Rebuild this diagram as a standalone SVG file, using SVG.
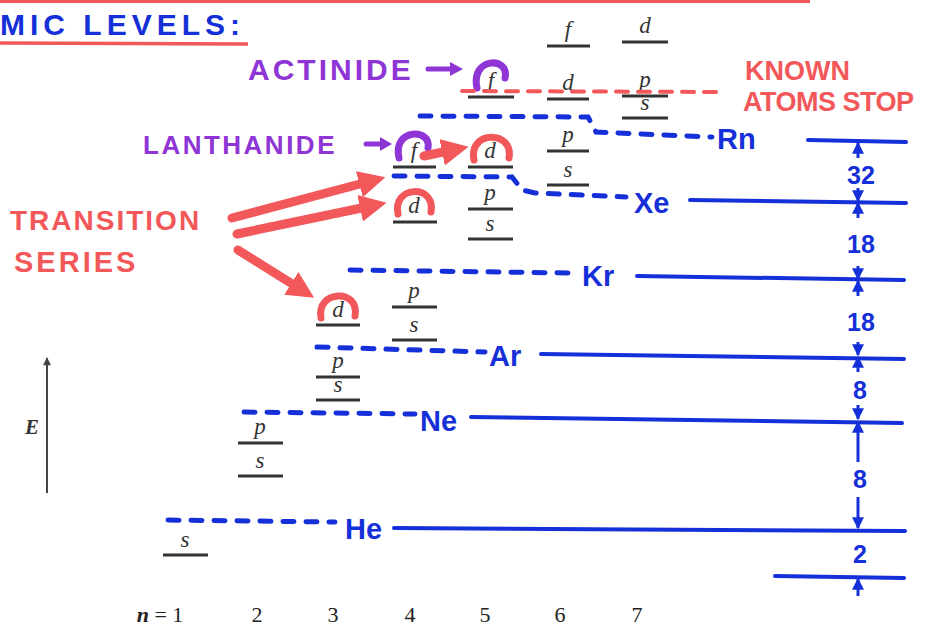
<svg xmlns="http://www.w3.org/2000/svg" width="926" height="626" viewBox="0 0 926 626">
<style>
.lvl{stroke:#333;stroke-width:3;fill:none}
.orb{font-family:"Liberation Serif",serif;font-style:italic;font-size:23px;fill:#333;text-anchor:middle}
.num{font-family:"Liberation Serif",serif;font-size:22px;fill:#222;text-anchor:middle}
.blue{fill:#1530d8;font-family:"Liberation Sans",Arial,sans-serif;font-weight:bold}
.el{font-size:29px;font-weight:900}
.red{fill:#f2585a;font-family:"Liberation Sans",Arial,sans-serif;font-weight:bold}
.pur{fill:#8f35d6;font-family:"Liberation Sans",Arial,sans-serif;font-weight:bold}
.dash{stroke:#1530d8;stroke-width:5;stroke-dasharray:11 12;stroke-linecap:round;fill:none}
.solid{stroke:#1530d8;stroke-width:4;stroke-linecap:round;fill:none}
.rarc{stroke:#f2585a;stroke-width:7;fill:none;stroke-linecap:round}
.parc{stroke:#8f35d6;stroke-width:7;fill:none;stroke-linecap:round}
.rarrow{stroke:#f2585a;stroke-width:9;fill:none;stroke-linecap:round}
.tick{stroke:#1530d8;stroke-width:3;fill:none}
</style>
<defs>
<marker id="rh" viewBox="0 0 10 10" refX="6" refY="5" markerWidth="3" markerHeight="3" orient="auto"><path d="M0,0 L10,5 L0,10 z" fill="#f2585a"/></marker>
<marker id="bh" viewBox="0 0 10 10" refX="9" refY="5" markerWidth="4" markerHeight="4" orient="auto"><path d="M0,0 L10,5 L0,10 z" fill="#1530d8"/></marker>
<marker id="kh" viewBox="0 0 10 10" refX="9" refY="5" markerWidth="6" markerHeight="4" orient="auto"><path d="M0,0 L10,5 L0,10 z" fill="#444"/></marker>
</defs>
<rect width="926" height="626" fill="#fff"/>

<g id="title">
<line x1="0" y1="1.5" x2="810" y2="1.5" stroke="#f2585a" stroke-width="3"/>
<text x="0" y="35" class="blue" font-size="30" font-weight="900" letter-spacing="5">MIC LEVELS:</text>
<line x1="0" y1="43" x2="248" y2="44" stroke="#f2585a" stroke-width="3.5"/>
</g>

<g id="axis">
<line x1="47" y1="493" x2="47" y2="358" stroke="#444" stroke-width="2" marker-end="url(#kh)"/>
<text x="32" y="434" font-family="Liberation Serif,serif" font-style="italic" font-weight="bold" font-size="21" fill="#333" text-anchor="middle">E</text>
</g>

<g id="nlabels">
<text x="160" y="622" class="num"><tspan font-style="italic" font-weight="bold">n</tspan> = 1</text>
<text x="257" y="622" class="num">2</text>
<text x="333" y="622" class="num">3</text>
<text x="410" y="622" class="num">4</text>
<text x="485" y="622" class="num">5</text>
<text x="560" y="622" class="num">6</text>
<text x="637" y="622" class="num">7</text>
</g>

<g id="n1"><line class="lvl" x1="163" y1="555" x2="208" y2="555"/><text class="orb" x="185" y="547">s</text></g>
<g id="n2">
<line class="lvl" x1="238" y1="476" x2="283" y2="476"/><text class="orb" x="260" y="468">s</text>
<line class="lvl" x1="238" y1="443" x2="283" y2="443"/><text class="orb" x="260" y="434">p</text>
</g>
<g id="n3">
<line class="lvl" x1="316" y1="400" x2="360" y2="400"/><text class="orb" x="338" y="392">s</text>
<line class="lvl" x1="316" y1="377" x2="360" y2="377"/><text class="orb" x="338" y="368">p</text>
<line class="lvl" x1="316" y1="325" x2="360" y2="325"/><text class="orb" x="338" y="317">d</text>
</g>
<g id="n4">
<line class="lvl" x1="392" y1="340" x2="437" y2="340"/><text class="orb" x="414" y="332">s</text>
<line class="lvl" x1="392" y1="307" x2="437" y2="307"/><text class="orb" x="414" y="298">p</text>
<line class="lvl" x1="393" y1="222" x2="437" y2="222"/><text class="orb" x="414" y="213">d</text>
<line class="lvl" x1="393" y1="167" x2="436" y2="167"/><text class="orb" x="414" y="158">f</text>
</g>
<g id="n5">
<line class="lvl" x1="468" y1="239" x2="513" y2="239"/><text class="orb" x="490" y="231">s</text>
<line class="lvl" x1="468" y1="209" x2="513" y2="209"/><text class="orb" x="490" y="200">p</text>
<line class="lvl" x1="468" y1="167" x2="513" y2="167"/><text class="orb" x="490" y="158">d</text>
<line class="lvl" x1="468" y1="97" x2="514" y2="97"/><text class="orb" x="491" y="88">f</text>
</g>
<g id="n6">
<line class="lvl" x1="547" y1="185" x2="589" y2="185"/><text class="orb" x="568" y="177">s</text>
<line class="lvl" x1="547" y1="151" x2="589" y2="151"/><text class="orb" x="568" y="142">p</text>
<line class="lvl" x1="547" y1="99" x2="589" y2="99"/><text class="orb" x="568" y="90">d</text>
<line class="lvl" x1="547" y1="46" x2="590" y2="46"/><text class="orb" x="568" y="37">f</text>
</g>
<g id="n7">
<line class="lvl" x1="622" y1="118" x2="668" y2="118"/><text class="orb" x="645" y="110">s</text>
<line class="lvl" x1="622" y1="96" x2="668" y2="96"/><text class="orb" x="645" y="87">p</text>
<line class="lvl" x1="622" y1="42" x2="668" y2="42"/><text class="orb" x="645" y="33">d</text>
</g>

<g id="arcs">
<path class="rarc" d="M321,318 C316,290 360,288 355,316"/>
<path class="rarc" d="M398,214 C392,185 436,184 431,212"/>
<path class="rarc" d="M474,160 C468,130 514,130 509,158"/>
<path class="parc" d="M399,158 C392,128 432,128 428,148"/>
<path class="parc" d="M477,88 C470,57 510,56 505,78"/>
</g>

<g id="actinide">
<text x="248" y="80" class="pur" font-size="30" font-weight="900" letter-spacing="3">ACTINIDE</text>
<line x1="428" y1="69" x2="452" y2="69" stroke="#8f35d6" stroke-width="5" stroke-linecap="round"/>
<path d="M450,62 L463,69 L450,76 z" fill="#8f35d6"/>
</g>
<g id="lanthanide">
<text x="143" y="154" class="pur" font-size="26" font-weight="900" letter-spacing="2.5">LANTHANIDE</text>
<line x1="366" y1="144" x2="382" y2="144" stroke="#8f35d6" stroke-width="5" stroke-linecap="round"/>
<path d="M380,137 L392,144 L380,151 z" fill="#8f35d6"/>
</g>
<g id="known">
<text x="745" y="80" class="red" font-size="27" font-weight="900">KNOWN</text>
<text x="743" y="111" class="red" font-size="27" font-weight="900" letter-spacing="-0.5">ATOMS STOP</text>
</g>
<g id="transition">
<text x="10" y="230" class="red" font-size="28" font-weight="900" letter-spacing="2">TRANSITION</text>
<text x="14" y="272" class="red" font-size="29" font-weight="900" letter-spacing="3">SERIES</text>
</g>

<g id="connectors">
<path class="rarrow" d="M232,218 L375,180" marker-end="url(#rh)"/>
<path class="rarrow" d="M237,234 L376,205" marker-end="url(#rh)"/>
<path class="rarrow" d="M238,250 L305,292" marker-end="url(#rh)"/>
<path class="rarrow" d="M424,156 L458,149" marker-end="url(#rh)"/>
<path d="M462,91 L725,92" stroke="#f2585a" stroke-width="4" stroke-dasharray="12 10" stroke-linecap="round" fill="none"/>
<path class="dash" d="M168,520 L335,522"/>
<path class="dash" d="M244,412 L415,414"/>
<path class="dash" d="M317,347 L485,352"/>
<path class="dash" d="M350,270 L572,273"/>
<path class="dash" d="M394,176 L512,177 L522,190 L535,193 L626,197"/>
<path class="dash" d="M420,116 L588,117 L596,132 L712,137"/>
<text x="345" y="539" class="blue el">He</text>
<text x="420" y="431" class="blue el">Ne</text>
<text x="489" y="366" class="blue el">Ar</text>
<text x="582" y="286" class="blue el">Kr</text>
<text x="634" y="213" class="blue el">Xe</text>
<text x="717" y="149" class="blue el">Rn</text>
<path class="solid" d="M394,528 L905,531"/>
<path class="solid" d="M471,417 L902,423"/>
<path class="solid" d="M541,354 L904,359"/>
<path class="solid" d="M637,276 L904,280"/>
<path class="solid" d="M690,200 L906,203"/>
<path class="solid" d="M808,140 L906,142"/>
<path class="solid" d="M775,576 L904,578"/>
<line class="tick" x1="858" y1="158" x2="858" y2="143" marker-end="url(#bh)"/>
<line class="tick" x1="858" y1="188" x2="858" y2="201" marker-end="url(#bh)"/>
<line class="tick" x1="858" y1="218" x2="858" y2="203" marker-end="url(#bh)"/>
<line class="tick" x1="858" y1="266" x2="858" y2="279" marker-end="url(#bh)"/>
<line class="tick" x1="858" y1="296" x2="858" y2="281" marker-end="url(#bh)"/>
<line class="tick" x1="858" y1="342" x2="858" y2="355" marker-end="url(#bh)"/>
<line class="tick" x1="858" y1="372" x2="858" y2="357" marker-end="url(#bh)"/>
<line class="tick" x1="858" y1="405" x2="858" y2="419" marker-end="url(#bh)"/>
<line class="tick" x1="858" y1="462" x2="858" y2="422" marker-end="url(#bh)"/>
<line class="tick" x1="858" y1="497" x2="858" y2="528" marker-end="url(#bh)"/>
<line class="tick" x1="858" y1="596" x2="858" y2="579" marker-end="url(#bh)"/>
<text x="861" y="184" class="blue" font-size="25" font-weight="900" text-anchor="middle">32</text>
<text x="861" y="253" class="blue" font-size="25" font-weight="900" text-anchor="middle">18</text>
<text x="861" y="331" class="blue" font-size="25" font-weight="900" text-anchor="middle">18</text>
<text x="860" y="399" class="blue" font-size="25" font-weight="900" text-anchor="middle">8</text>
<text x="860" y="488" class="blue" font-size="25" font-weight="900" text-anchor="middle">8</text>
<text x="860" y="563" class="blue" font-size="25" font-weight="900" text-anchor="middle">2</text>
</g>
</svg>
